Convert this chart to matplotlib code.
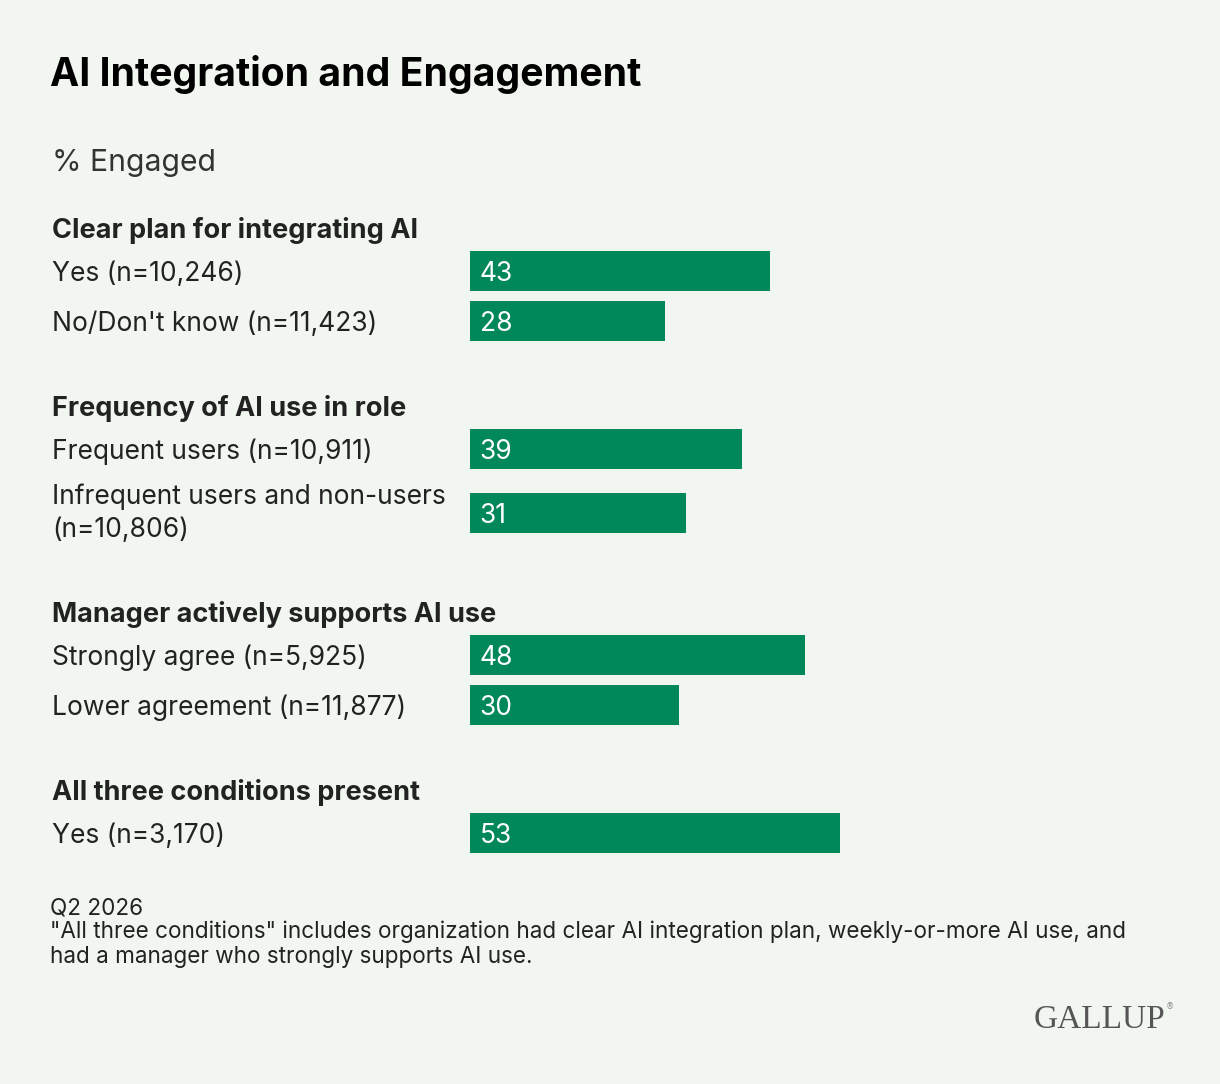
import matplotlib.pyplot as plt

# dati
gruppi = ["Clear plan for integrating AI",
          "Frequency of AI use in role",
          "Manager actively supports AI use",
          "All three conditions present"]
etichette = [["Yes (n=10,246)", "No/Don't know (n=11,423)"],
             ["Frequent users (n=10,911)", "Infrequent users and non-users\n(n=10,806)"],
             ["Strongly agree (n=5,925)", "Lower agreement (n=11,877)"],
             ["Yes (n=3,170)"]]
valori = [[43, 28], [39, 31], [48, 30], [53]]

BG = '#F1F7F0'
VERDE = '#00875A'
W, H = 1220, 1084
DY = 3  # piccolo aggiustamento verticale del testo

plt.rcParams['font.family'] = ['Inter', 'DejaVu Sans']

fig = plt.figure(figsize=(W / 100, H / 100), dpi=100, facecolor=BG)

def fy(py):
    return 1 - py / H

# asse per le barre: x in % (6.98 px per punto), y in pixel dall'alto
ax = fig.add_axes([470 / W, 0, (W - 470) / W, 1])
ax.set_facecolor('none')
ax.set_xlim(0, (W - 470) / 6.98)
ax.set_ylim(H, 0)
ax.axis('off')

fig.text(50 / W, fy(75), "AI Integration and Engagement", fontsize=28.2,
         fontweight='bold', color='black', va='center', ha='left')
fig.text(52 / W, fy(163), "% Engaged", fontsize=21.7, color='#333333',
         va='center', ha='left')

y = 227
for g, labs, vals in zip(gruppi, etichette, valori):
    fig.text(52 / W, fy(y + DY), g, fontsize=19.5, fontweight='bold',
             color='#222222', va='center', ha='left')
    y += 44
    for i, (lab, v) in enumerate(zip(labs, vals)):
        due_righe = '\n' in lab
        if i > 0:
            y += 50
        if due_righe:
            y += 14
        ax.barh(y, v, height=40, left=0, color=VERDE)
        ax.text(1.4, y + DY, str(v), color='white', fontsize=19,
                va='center', ha='left')
        fig.text(52 / W, fy(y + (0 if due_righe else DY)), lab, fontsize=19,
                 color='#222222', va='center', ha='left', linespacing=1.35)
        if due_righe:
            y += 14
    y += 84

fig.text(50 / W, fy(909), "Q2 2026", fontsize=16.2, color='#222222',
         va='center', ha='left')
fig.text(50 / W, fy(944),
         '"All three conditions" includes organization had clear AI integration plan, weekly-or-more AI use, and\n'
         'had a manager who strongly supports AI use.',
         fontsize=16.2, color='#222222', va='center', ha='left', linespacing=1.17)

fig.text(1165 / W, fy(1020), "GALLUP", fontsize=24, color='#555555',
         family='Liberation Serif', va='center', ha='right')
fig.text(1166 / W, fy(1007), "®", fontsize=6, color='#888888',
         family='DejaVu Sans', va='center', ha='left')

fig.savefig('out.png', dpi=100, facecolor=BG)
